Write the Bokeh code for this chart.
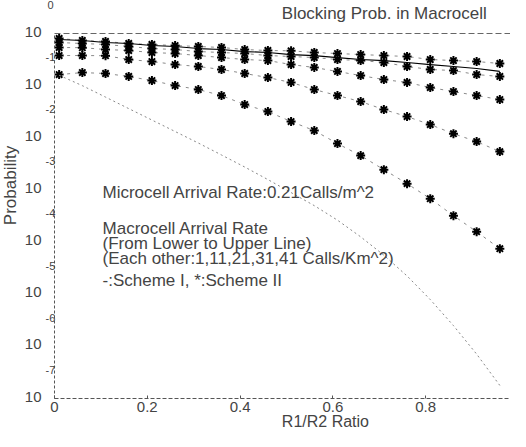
from bokeh.plotting import figure
from bokeh.models import Label, FixedTicker, Range1d, LinearAxis
from bokeh.embed import file_html
from bokeh.resources import INLINE

# R1/R2 ratio sample points
ratio = [0.01, 0.06, 0.11, 0.16, 0.21, 0.26, 0.31, 0.36, 0.41, 0.46,
         0.51, 0.56, 0.61, 0.66, 0.71, 0.76, 0.81, 0.86, 0.91, 0.96]

# Scheme II (asterisks), macrocell arrival rate 1, 11, 21, 31, 41 calls/km^2
s2_rate1 = [0.163, 0.178, 0.171, 0.150, 0.125, 0.1005, 0.0842, 0.0646, 0.0434, 0.0318,
            0.0205, 0.01375, 0.00774, 0.00455, 0.00245, 0.00132, 6.8e-4, 3.21e-4, 1.58e-4, 7.47e-5]
s2_rate11 = [0.378, 0.378, 0.375, 0.317, 0.290, 0.254, 0.233, 0.204, 0.171, 0.143,
             0.115, 0.0842, 0.0646, 0.0495, 0.0348, 0.0255, 0.0179, 0.0120, 0.00845, 0.00543]
s2_rate21 = [0.539, 0.535, 0.493, 0.472, 0.432, 0.413, 0.378, 0.346, 0.317, 0.303,
             0.254, 0.223, 0.187, 0.156, 0.131, 0.115, 0.092, 0.077, 0.0646, 0.0541]
s2_rate31 = [0.672, 0.643, 0.615, 0.563, 0.515, 0.493, 0.451, 0.432, 0.413, 0.378,
             0.362, 0.346, 0.317, 0.303, 0.278, 0.233, 0.204, 0.195, 0.163, 0.150]
s2_rate41 = [0.802, 0.734, 0.702, 0.643, 0.615, 0.588, 0.563, 0.539, 0.493, 0.472,
             0.465, 0.432, 0.413, 0.395, 0.378, 0.362, 0.317, 0.303, 0.290, 0.266]

# Scheme I (lines)
s1_rate41 = [0.767, 0.734, 0.672, 0.643, 0.588, 0.563, 0.515, 0.493, 0.451, 0.432,
             0.395, 0.378, 0.346, 0.317, 0.303, 0.278, 0.254, 0.233, 0.213, 0.187]
s1_rate1 = [0.158, 0.1, 0.0603, 0.0363, 0.0219, 0.0132, 0.00794, 0.00468, 0.00275, 0.00158,
            8.9e-4, 5.0e-4, 2.63e-4, 1.26e-4, 5.6e-5, 2.24e-5, 7.9e-6, 2.5e-6, 7.1e-7, 1.78e-7]

x_ticks = [0, 0.2, 0.4, 0.6, 0.8]
y_exponents = [0, -1, -2, -3, -4, -5, -6, -7]
y_base_label = "10"

title_text = "Blocking Prob. in Macrocell"
x_label = "R1/R2 Ratio"
y_label = "Probability"
notes = ["Microcell Arrival Rate:0.21Calls/m^2",
         "Macrocell Arrival Rate",
         "(From Lower to Upper Line)",
         "(Each other:1,11,21,31,41 Calls/Km^2)",
         "-:Scheme I, *:Scheme II"]

# ---------------- layout constants (pixels) ----------------
W, H = 510, 431
BOX_LEFT, BOX_TOP, BOX_BOTTOM = 54, 33, 398      # data box inside the figure
X_END = 0.983
FONT = "Liberation Sans"
EXP_SHIFT = 0.55        # exponent text sits about half a decade above its "10"

px_per_x = (W - BOX_LEFT) / X_END
x_start = -BOX_LEFT / px_per_x
y_lo, y_hi = min(y_exponents), max(y_exponents)
px_per_dec = (BOX_BOTTOM - BOX_TOP) / (y_hi - y_lo)
top_exp = y_hi + BOX_TOP / px_per_dec
bot_exp = y_lo - (H - BOX_BOTTOM) / px_per_dec


def ylog(px_below_top):
    """data value at a given pixel distance below the top of the box"""
    return 10.0 ** (y_hi - px_below_top / px_per_dec)


p = figure(width=W, height=H, y_axis_type="log",
           x_range=Range1d(x_start, X_END), y_range=Range1d(10.0 ** bot_exp, 10.0 ** top_exp),
           output_backend="svg", toolbar_location=None,
           min_border_left=0, min_border_right=0, min_border_top=0, min_border_bottom=0)
p.grid.visible = False
p.outline_line_color = None
p.background_fill_color = "white"
p.border_fill_color = "white"

# ---- x axis, drawn along the bottom of the data box
xa = p.xaxis[0]
xa.fixed_location = 10.0 ** y_lo
xa.bounds = (x_ticks[0], X_END)
xa.ticker = FixedTicker(ticks=x_ticks)
xa.axis_line_color = "#555555"
xa.axis_line_dash = "4 2"
xa.major_tick_in = 3
xa.major_tick_out = 0
xa.minor_tick_in = 0
xa.minor_tick_out = 0
xa.major_tick_line_color = "#555555"
xa.minor_tick_line_color = None
xa.major_label_text_font = FONT
xa.major_label_text_font_size = "15px"
xa.major_label_standoff = 3

# ---- y axis line at x = 0 (decade labels are placed below as texts)
ya = p.yaxis[0]
ya.fixed_location = x_ticks[0]
ya.bounds = (10.0 ** y_lo, 10.0 ** y_hi)
ya.ticker = FixedTicker(ticks=[])
ya.axis_line_color = "#555555"
ya.axis_line_dash = "3 2"
ya.major_tick_in = 0
ya.major_tick_out = 0
ya.minor_tick_in = 0
ya.minor_tick_out = 0
ya.major_tick_line_color = None
ya.minor_tick_line_color = None

# ---- top edge of the box
top = LinearAxis(fixed_location=10.0 ** y_hi, bounds=(x_ticks[0], X_END),
                 ticker=FixedTicker(ticks=[]), axis_line_color="#666666",
                 axis_line_dash="6 3", major_tick_line_color=None,
                 minor_tick_line_color=None)
p.add_layout(top, "above")

# ---- Scheme II: asterisks with faint dashed connectors
for ys in (s2_rate1, s2_rate11, s2_rate21, s2_rate31, s2_rate41):
    p.line(ratio, ys, line_color="#8a8a8a", line_dash="3 5", line_width=1)
    p.scatter(ratio, ys, marker="asterisk", size=9, line_color="black", line_width=2)

# ---- Scheme I lines
p.line(ratio, s1_rate41, line_color="black", line_width=1.2)
p.line(ratio, s1_rate1, line_color="#888888", line_dash="2 3", line_width=1)

# ---- decade labels "10" with their exponents (as printed in the scanned figure)
for e in y_exponents:
    p.add_layout(Label(x=x_ticks[0], x_offset=-13, y=10.0 ** e, y_offset=2,
                       text=y_base_label, text_font=FONT, text_font_size="15px",
                       text_align="right", text_baseline="middle"))
    p.add_layout(Label(x=x_ticks[0], x_offset=-4, y=10.0 ** (e + EXP_SHIFT),
                       text=str(e), text_font=FONT, text_font_size="11px",
                       text_align="center", text_baseline="middle"))

# ---- title and axis titles
p.add_layout(Label(x=0.49, y=ylog(-20), text=title_text, text_font=FONT,
                   text_font_size="17px", text_align="left", text_baseline="middle"))
p.add_layout(Label(x=0.584, y=ylog(388), text=x_label, text_font=FONT,
                   text_font_size="16px", text_align="center", text_baseline="middle"))
p.add_layout(Label(x=x_ticks[0], x_offset=-44, y=ylog(152), text=y_label, angle=90,
                   angle_units="deg", text_font=FONT, text_font_size="17px",
                   text_align="center", text_baseline="middle"))

# ---- annotation text block
note_px = [159, 195, 210, 225, 247]
for t, d in zip(notes, note_px):
    p.add_layout(Label(x=0.1035, y=ylog(d), text=t, text_font=FONT,
                       text_font_size="17px", text_align="left", text_baseline="middle"))

open("out.html", "w").write(file_html(p, INLINE))
